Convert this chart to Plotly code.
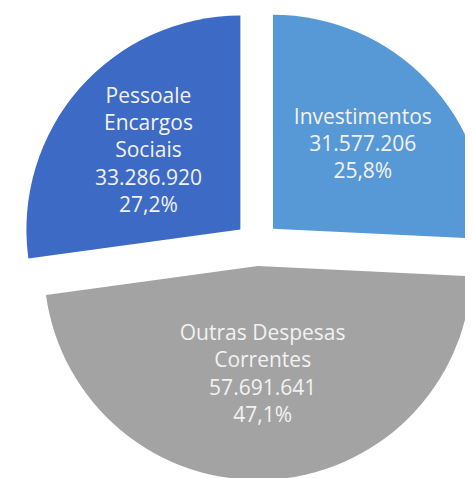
import plotly.graph_objects as go

# Despesas por grupo
labels = ["Investimentos", "Outras Despesas<br>Correntes", "Pessoale<br>Encargos<br>Sociais"]
values = [31577206, 57691641, 33286920]
colors = ["#5799D6", "#A3A3A3", "#3D6AC4"]

fig = go.Figure(go.Pie(
    labels=labels,
    values=values,
    sort=False,
    direction="clockwise",
    rotation=0,
    pull=[0.103, 0.103, 0.103],
    marker=dict(colors=colors, line=dict(width=0)),
    texttemplate="%{label}<br>%{value:,}<br>%{percent:.1%}",
    textposition="inside",
    insidetextorientation="horizontal",
    textfont=dict(family="Open Sans", size=21, color="#F2F2F2"),
    showlegend=False,
    hoverinfo="skip",
))

# the original pie is cut off on the right, so the figure is a bit
# wider/taller than the window on purpose
fig.update_layout(
    width=489,
    height=500,
    margin=dict(l=9, r=0, t=0, b=28),
    separators=",.",
    paper_bgcolor="white",
    plot_bgcolor="white",
)

fig.write_html("out.html")
